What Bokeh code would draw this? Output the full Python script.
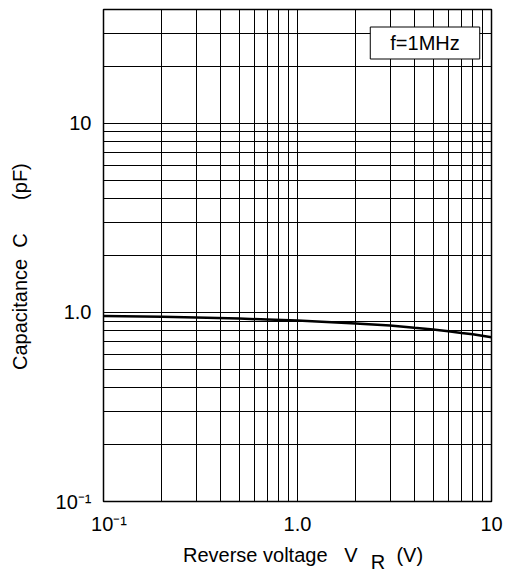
from bokeh.plotting import figure
from bokeh.models import Range1d, FixedTicker, Label
from bokeh.embed import file_html
from bokeh.resources import INLINE

# ---- data ----
voltage = [0.1, 0.2, 0.3, 0.5, 0.7, 1.0, 2.0, 3.0, 4.0, 5.0, 6.0, 7.0, 8.0, 10.0]
capacitance = [0.956, 0.948, 0.941, 0.928, 0.917, 0.905, 0.874, 0.853, 0.829, 0.812, 0.796, 0.779, 0.767, 0.740]

x_major = [0.1, 1.0, 10.0]
x_minor = [0.2, 0.3, 0.4, 0.5, 0.6, 0.7, 0.8, 0.9, 2, 3, 4, 5, 6, 7, 8, 9]
y_major = [0.1, 1.0, 10.0]
y_minor = [0.2, 0.3, 0.4, 0.5, 0.6, 0.7, 0.8, 0.9, 2, 3, 4, 5, 6, 7, 8, 9, 20, 30]
NB = "\u00a0"
x_tick_labels = {0.1: NB * 2 + "10\u207b\u00b9", 1.0: "1.0", 10.0: "10"}
y_tick_labels = {0.1: "10\u207b\u00b9", 1.0: "1.0", 10.0: "10"}
x_limits = (0.1, 10.0)
y_limits = (0.1, 40.0)

x_title = (NB * 2 + "Reverse voltage" + NB * 3 + "V" + NB * 7 + "(V)\n"
           + NB * 36 + "R" + NB * 7)
y_title = "Capacitance" + NB * 2 + "C" + NB * 6 + "(pF)" + NB * 4
note = "f=1MHz"

FONT = "Liberation Sans"

p = figure(width=507, height=575, x_axis_type="log", y_axis_type="log",
           x_range=Range1d(*x_limits), y_range=Range1d(*y_limits),
           output_backend="svg", toolbar_location=None,
           min_border_left=103, min_border_right=16, min_border_top=9, min_border_bottom=74)

p.background_fill_color = "white"
p.border_fill_color = "white"
p.outline_line_color = "black"
p.outline_line_width = 1.5

for ax, maj, mnr, lbls in ((p.xaxis, x_major, x_minor, x_tick_labels),
                           (p.yaxis, y_major, y_minor, y_tick_labels)):
    ax.ticker = FixedTicker(ticks=maj, minor_ticks=mnr)
    ax.axis_line_color = None
    ax.major_tick_line_color = None
    ax.minor_tick_line_color = None
    ax.major_tick_out = 0
    ax.major_tick_in = 0
    ax.minor_tick_out = 0
    ax.minor_tick_in = 0
    ax.major_label_overrides = lbls
    ax.major_label_text_font = FONT
    ax.major_label_text_font_size = "20px"
    ax.major_label_text_color = "black"
    ax.axis_label_text_font = FONT
    ax.axis_label_text_font_size = "20px"
    ax.axis_label_text_font_style = "normal"
    ax.axis_label_text_color = "black"

p.xaxis.major_label_standoff = 11
p.yaxis.major_label_standoff = 12
p.xaxis.axis_label = x_title
p.xaxis.axis_label_text_line_height = 0.34
p.xaxis.axis_label_standoff = 6
p.yaxis.axis_label = y_title
p.yaxis.axis_label_standoff = 22

for g in (p.xgrid, p.ygrid):
    g.grid_line_color = "black"
    g.grid_line_width = 1
    g.minor_grid_line_color = "black"
    g.minor_grid_line_width = 1

p.line(voltage, capacitance, line_color="black", line_width=2.5)

# frequency box (frame-relative screen position)
p.add_layout(Label(x=321.5, y=458.5, x_units="screen", y_units="screen", text=note,
                   text_align="center", text_baseline="middle",
                   text_font=FONT, text_font_size="20px", text_color="black",
                   background_fill_color="white", border_line_color="black",
                   border_line_width=1, padding=(20, 5)))

open("out.html", "w").write(file_html(p, INLINE))
